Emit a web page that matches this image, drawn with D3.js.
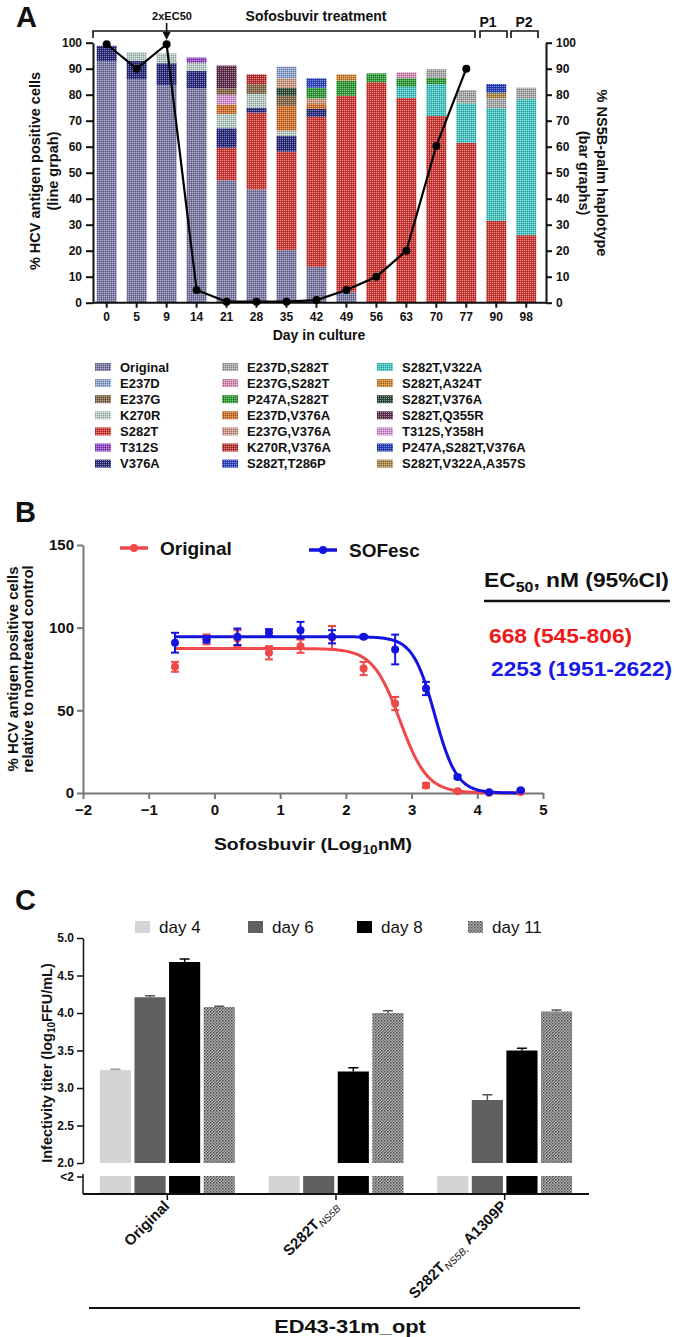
<!DOCTYPE html>
<html><head><meta charset="utf-8">
<script src="https://cdn.jsdelivr.net/npm/d3@7"></script>
<style>
body{margin:0;background:#fff}
text{font-family:"Liberation Sans",Arial,sans-serif;fill:#111}
</style>
</head><body>
<svg id="chart" width="674" height="1337" xmlns="http://www.w3.org/2000/svg"></svg>
<script>
// ---------------- Panel A data ----------------
const days = ["0","5","9","14","21","28","35","42","49","56","63","70","77","90","98"];
const antigenPositive = [99.4, 90, 99.4, 4.9, 0.4, 0.4, 0.4, 1.0, 4.9, 10, 20, 60.3, 90, null, null];

const haplotypeNames = ["Original","E237D","E237G","K270R","S282T","T312S","V376A",
  "E237D,S282T","E237G,S282T","P247A,S282T","E237D,V376A","E237G,V376A","K270R,V376A","S282T,T286P",
  "S282T,V322A","S282T,A324T","S282T,V376A","S282T,Q355R","T312S,Y358H","P247A,S282T,V376A","S282T,V322A,A357S"];

const hOriginal   = [92.8,85.9,83.7,82.5,47.1,43.6,20.3,13.8,4.2,0,0,0,0,0,0];
const hE237D      = [0,0,0,0,0,0,4.5,0,0,0,0,0,0,0,0];
const hE237G      = [0,0,0,0,2.4,3.7,3.9,0,0,0,0,0,0,0,0];
const hK270R      = [0,3.3,3.8,3.2,5.5,5.3,2.1,0,0,0,0,0,0,0,0];
const hS282T      = [0,0,0,0,12.5,29.5,37.8,57.7,75.4,84.8,78.8,71.8,61.5,31.5,26.0];
const hT312S      = [0,0,0,2.0,0,0,0,0,0,0,0,0,0,0,0];
const hV376A      = [6.0,7.1,8.4,6.6,7.5,1.9,6.0,3.0,0,0,0,0,0,0,0];
const hE237D_S282T = [0,0,0,0,0,0,0,0,0,0,0,3.3,5.1,3.8,4.4];
const hE237G_S282T = [0,0,0,0,0,0,0,0,0,0,2.3,0,0,0,0];
const hP247A_S282T = [0,0,0,0,0,0,0,4.1,5.8,3.4,3.2,2.5,0,0,0];
const hE237D_V376A = [0,0,0,0,3.6,0,9.5,1.9,0,0,0,0,0,0,0];
const hE237G_V376A = [0,0,0,0,0,0,3.6,2.2,0,0,0,0,0,0,0];
const hK270R_V376A = [0,0,0,0,0,3.8,0,0,0,0,0,0,0,0,0];
const hS282T_T286P = [0,0,0,0,0,0,0,3.6,0,0,0,0,0,0,0];
const hS282T_V322A = [0,0,0,0,0,0,0,0,0,0,4.3,12.2,15.2,43.3,52.3];
const hS282T_A324T = [0,0,0,0,0,0,0,0,2.4,0,0,0,0,0,0];
const hS282T_V376A = [0,0,0,0,0,0,3.1,0,0,0,0,0,0,0,0];
const hS282T_Q355R = [0,0,0,0,8.8,0,0,0,0,0,0,0,0,0,0];
const hT312S_Y358H = [0,0,0,0,3.8,0,0,0,0,0,0,0,0,0,0];
const hP247A_S282T_V376A = [0,0,0,0,0,0,0,0,0,0,0,0,0,3.3,0];
const hS282T_V322A_A357S = [0,0,0,0,0,0,0,0,0,0,0,0,0,2.2,0];

const haplotypeValues = [hOriginal,hE237D,hE237G,hK270R,hS282T,hT312S,hV376A,
  hE237D_S282T,hE237G_S282T,hP247A_S282T,hE237D_V376A,hE237G_V376A,hK270R_V376A,hS282T_T286P,
  hS282T_V322A,hS282T_A324T,hS282T_V376A,hS282T_Q355R,hT312S_Y358H,hP247A_S282T_V376A,hS282T_V322A_A357S];

// stacking order (bottom -> top)
const stackOrder = ["Original","S282T","S282T,V322A","V376A","K270R","T312S","E237D,V376A","T312S,Y358H",
  "E237G","K270R,V376A","S282T,Q355R","S282T,V376A","E237G,V376A","E237D","P247A,S282T","S282T,T286P",
  "S282T,A324T","E237G,S282T","E237D,S282T","S282T,V322A,A357S","P247A,S282T,V376A"];

const haplotypeColors = ["#7b7ba6","#8fa6d2","#86684a","#b9cec6","#d33a36","#9147c6","#2b2b7f",
  "#a9a9a9","#d68fb6","#2f9c35","#d2722a","#cf9a84","#bf3431","#2f45c2",
  "#46c8c6","#d08634","#2f4a36","#62304f","#d794d6","#233fc0","#ae8a48"];

// ---------------- Panel B data ----------------
const doseLog = [-0.6,-0.12,0.35,0.83,1.31,1.79,2.27,2.75,3.22,3.70,4.18,4.66];
const originalMean = [76.3,92.9,93.5,84.8,88.8,94.0,75.3,54.1,4.6,1.0,0.2,0.6];
const originalErr  = [3,3,5,4,4,7,4,4,1.5,0.5,0.3,0.5];
const sofescMean   = [90.9,93.0,94.5,97.1,98.5,94.5,94.5,86.8,63.2,9.7,0.4,1.6];
const sofescErr    = [6,2,5,2,5,4,1,9,4,1,0.3,0.5];
const fitTop = [87.4, 94.5];
const fitEC50nM = [668, 2253];
const fitHill = [2.1, 2.6];
const ec50Labels = ["668 (545-806)", "2253 (1951-2622)"];

// ---------------- Panel C data ----------------
const constructs = ["Original","S282T_NS5B","S282T_NS5B_A1309P"];
const dayLabels = ["day 4","day 6","day 8","day 11"];
const titerDay4  = [3.24, null, null];
const titerDay6  = [4.21, null, 2.84];
const titerDay8  = [4.68, 3.22, 3.50];
const titerDay11 = [4.08, 4.00, 4.02];
const errDay4  = [0.01, null, null];
const errDay6  = [0.02, null, 0.07];
const errDay8  = [0.04, 0.05, 0.03];
const errDay11 = [0.01, 0.03, 0.02];
const cTicks = [2.0,2.5,3.0,3.5,4.0,4.5,5.0];

// ======================================================
const svg = d3.select("#chart");
svg.append("rect").attr("width",674).attr("height",1337).attr("fill","#fff");
const defs = svg.append("defs");
const FONT = '"Liberation Sans",Arial,sans-serif';

function makePattern(id, color, light=0.45, dark=0.25){
  const p = defs.append("pattern").attr("id",id).attr("patternUnits","userSpaceOnUse")
    .attr("width",2).attr("height",2);
  p.append("rect").attr("width",2).attr("height",2).attr("fill",color);
  p.append("rect").attr("width",1).attr("height",1).attr("fill",d3.interpolateRgb(color,"#fff")(light));
  p.append("rect").attr("x",1).attr("y",1).attr("width",1).attr("height",1).attr("fill",d3.interpolateRgb(color,"#000")(dark));
}
haplotypeColors.forEach((c,i)=>makePattern("hp"+i,c));
const colorOf = name => "url(#hp"+haplotypeNames.indexOf(name)+")";

function styleAxis(g, size, color="#111", width=2){
  g.selectAll("text").style("font-family",FONT).style("font-weight","bold").style("font-size",size+"px").attr("fill","#111");
  g.selectAll("line").attr("stroke",color).attr("stroke-width",width);
  g.selectAll("path").attr("stroke",color).attr("stroke-width",width);
}

// ================= Panel A =================
const xA = d3.scaleBand(days,[91.7,541.2]).paddingInner(1/3).paddingOuter(1/6);
const yA = d3.scaleLinear([0,100],[302.7,42.7]);
const gA = svg.append("g");

const rows = days.map((d,i)=>{
  const o = {day:d};
  haplotypeNames.forEach((n,k)=>o[n]=haplotypeValues[k][i]);
  return o;
});
const stacked = d3.stack().keys(stackOrder)(rows);
stacked.forEach(layer=>{
  gA.append("g").selectAll("rect").data(layer.filter(s=>s[1]-s[0]>0)).join("rect")
    .attr("x",s=>xA(s.data.day)).attr("width",xA.bandwidth())
    .attr("y",s=>yA(s[1])).attr("height",s=>yA(s[0])-yA(s[1]))
    .attr("fill",colorOf(layer.key));
});

// axes
const axL = gA.append("g").attr("transform","translate(93,0)")
  .call(d3.axisLeft(yA).tickValues(d3.range(0,101,10)).tickSize(7).tickPadding(4).tickSizeOuter(0));
styleAxis(axL,12);
const axR = gA.append("g").attr("transform","translate(546,0)")
  .call(d3.axisRight(yA).tickValues(d3.range(0,101,10)).tickSize(6).tickPadding(4).tickSizeOuter(0));
styleAxis(axR,12);
const axB = gA.append("g").attr("transform","translate(0,302.7)")
  .call(d3.axisBottom(xA).tickSize(5).tickPadding(5).tickSizeOuter(0));
axB.select(".domain").remove();
styleAxis(axB,12);
gA.append("line").attr("x1",93).attr("x2",546).attr("y1",302.7).attr("y2",302.7).attr("stroke","#111").attr("stroke-width",2);

// line graph
const lineA = d3.line().defined(d=>d.v!=null).x(d=>xA(d.day)+xA.bandwidth()/2).y(d=>yA(d.v));
const linePts = days.map((d,i)=>({day:d,v:antigenPositive[i]}));
gA.append("path").datum(linePts).attr("d",lineA).attr("fill","none").attr("stroke","#000").attr("stroke-width",2.2);
gA.append("g").selectAll("circle").data(linePts.filter(d=>d.v!=null)).join("circle")
  .attr("cx",d=>xA(d.day)+xA.bandwidth()/2).attr("cy",d=>yA(d.v)).attr("r",4).attr("fill","#000");

// titles
function txt(g,x,y,s,size,opts={}){
  const t = g.append("text").text(s)
    .style("font-size",size+"px").style("font-weight",opts.weight||"bold")
    .attr("text-anchor",opts.anchor||"start");
  if(opts.fill) t.style("fill",opts.fill);
  if(opts.rotate!=null) t.attr("x",x).attr("y",y).attr("transform",`rotate(${opts.rotate},${x},${y})`);
  else if(opts.sx) t.attr("x",0).attr("y",0).attr("transform",`translate(${x},${y}) scale(${opts.sx},1)`);
  else t.attr("x",x).attr("y",y);
  return t;
}
txt(gA,16,27,"A",29);
txt(gA,172,20,"2xEC50",11,{anchor:"middle"});
txt(gA,316,21,"Sofosbuvir treatment",14,{anchor:"middle"});
txt(gA,488,27,"P1",14,{anchor:"middle"});
txt(gA,524,27,"P2",14,{anchor:"middle"});
function bracket(x1,x2){
  gA.append("path").attr("d",`M${x1},38V31H${x2}V38`).attr("fill","none").attr("stroke","#111").attr("stroke-width",1.6);
}
bracket(93,475); bracket(480,507); bracket(511,538);
const ax9 = xA("9")+xA.bandwidth()/2;
gA.append("line").attr("x1",ax9).attr("x2",ax9).attr("y1",23).attr("y2",34).attr("stroke","#111").attr("stroke-width",1.6);
gA.append("path").attr("d",`M${ax9-4},32L${ax9+4},32L${ax9},40Z`).attr("fill","#111");

txt(gA,40,171,"% HCV antigen positive cells",14.5,{anchor:"middle",rotate:-90});
txt(gA,58,171,"(line grpah)",14.5,{anchor:"middle",rotate:-90});
txt(gA,597,173,"% NS5B-palm haplotype",14.5,{anchor:"middle",rotate:90});
txt(gA,579,173,"(bar graphs)",14.5,{anchor:"middle",rotate:90});
txt(gA,319,340,"Day in culture",14,{anchor:"middle"});

// legend
const legCols = [95,222,377];
haplotypeNames.forEach((n,i)=>{
  const c = Math.floor(i/7), r = i%7;
  const x = legCols[c], y = 367 + r*16.1;
  gA.append("rect").attr("x",x).attr("y",y-4).attr("width",16).attr("height",8).attr("fill",colorOf(n));
  txt(gA,x+25,y+4.5,n,13);
});

// ================= Panel B =================
const gB = svg.append("g");
const xB = d3.scaleLinear([-2,5],[83,543]);
const yB = d3.scaleLinear([0,150],[793,545]);
const redC = "#f04848", blueC = "#1414e0";
const axBL = gB.append("g").attr("transform","translate(83,0)")
  .call(d3.axisLeft(yB).tickValues([0,50,100,150]).tickSize(6).tickPadding(3).tickSizeOuter(0));
styleAxis(axBL,15,"#777",2);
const axBB = gB.append("g").attr("transform","translate(0,793)")
  .call(d3.axisBottom(xB).tickValues(d3.range(-2,6,1)).tickSize(6).tickPadding(5).tickSizeOuter(0).tickFormat(d3.format("d")));
styleAxis(axBB,15,"#777",2);

const curveXs = d3.range(doseLog[0], doseLog[doseLog.length-1]+0.001, 0.02);
const series = [
  {mean:originalMean, err:originalErr, color:redC, k:0},
  {mean:sofescMean, err:sofescErr, color:blueC, k:1}
];
series.forEach(s=>{
  const ec = Math.log10(fitEC50nM[s.k]);
  const f = x => fitTop[s.k]/(1+Math.pow(10,(x-ec)*fitHill[s.k]));
  gB.append("path").datum(curveXs).attr("fill","none").attr("stroke",s.color).attr("stroke-width",3)
    .attr("d",d3.line().x(x=>xB(x)).y(x=>yB(f(x))));
});
series.forEach(s=>{
  const g = gB.append("g");
  doseLog.forEach((x,i)=>{
    const m = s.mean[i], e = s.err[i];
    const cx = xB(x);
    g.append("line").attr("x1",cx).attr("x2",cx).attr("y1",yB(m-e)).attr("y2",yB(m+e)).attr("stroke",s.color).attr("stroke-width",2);
    [m-e,m+e].forEach(v=>g.append("line").attr("x1",cx-4).attr("x2",cx+4).attr("y1",yB(v)).attr("y2",yB(v)).attr("stroke",s.color).attr("stroke-width",2));
    g.append("circle").attr("cx",cx).attr("cy",yB(m)).attr("r",4).attr("fill",s.color);
  });
});
txt(gB,15,522,"B",29);
// legend
[[120,148,548,"Original",redC],[309,337,550,"SOFesc",blueC]].forEach(([x1,x2,y,l,c])=>{
  gB.append("line").attr("x1",x1).attr("x2",x2).attr("y1",y).attr("y2",y).attr("stroke",c).attr("stroke-width",3.5);
  gB.append("circle").attr("cx",(x1+x2)/2).attr("cy",y).attr("r",4).attr("fill",c);
  txt(gB,x2+12,y+7,l,19);
});
const ecT = gB.append("text").attr("transform","translate(484,587) scale(1.14,1)").style("font-size","20px").style("font-weight","bold");
ecT.append("tspan").text("EC");
ecT.append("tspan").text("50").style("font-size","14px").attr("dy",5);
ecT.append("tspan").text(", nM (95%CI)").attr("dy",-5);
gB.append("line").attr("x1",484).attr("x2",670).attr("y1",601).attr("y2",601).attr("stroke","#111").attr("stroke-width",2.5);
txt(gB,489,643,ec50Labels[0],20,{fill:"#f01818",sx:1.14});
txt(gB,491,676,ec50Labels[1],20,{fill:"#1a1ae8",sx:1.14});
txt(gB,18,669,"% HCV antigen positive cells",15,{anchor:"middle",rotate:-90});
txt(gB,33,669,"relative to nontreated control",15,{anchor:"middle",rotate:-90});
const sofT = gB.append("text").attr("transform","translate(313,850) scale(1.14,1)").attr("text-anchor","middle").style("font-size","17px").style("font-weight","bold");
sofT.append("tspan").text("Sofosbuvir (Log");
sofT.append("tspan").text("10").style("font-size","12px").attr("dy",4);
sofT.append("tspan").text("nM)").attr("dy",-4);

// ================= Panel C =================
const gC = svg.append("g");
const yC = d3.scaleLinear([2,5],[1163,938]);
const xC = d3.scaleBand(constructs,[83,589]);
const xD = d3.scaleBand(dayLabels,[xC.bandwidth()*0.1, xC.bandwidth()*0.9]).paddingInner(0.1);
const dayFills = ["#d4d4d4","#606060","#000000","url(#chk)"];
const dayErrColor = ["#9a9a9a","#555","#000","#555"];
const chk = defs.append("pattern").attr("id","chk").attr("patternUnits","userSpaceOnUse").attr("width",3).attr("height",3);
chk.append("rect").attr("width",3).attr("height",3).attr("fill","#b4b4b4");
chk.append("rect").attr("width",1.5).attr("height",1.5).attr("fill","#4a4a4a");
chk.append("rect").attr("x",1.5).attr("y",1.5).attr("width",1.5).attr("height",1.5).attr("fill","#6a6a6a");

const titers = [titerDay4,titerDay6,titerDay8,titerDay11];
const errs = [errDay4,errDay6,errDay8,errDay11];
constructs.forEach((c,ci)=>{
  dayLabels.forEach((d,di)=>{
    const x = xC(c)+xD(d), w = xD.bandwidth();
    // lower (<2) segment
    gC.append("rect").attr("x",x).attr("y",1176).attr("width",w).attr("height",17).attr("fill",dayFills[di]);
    const v = titers[di][ci];
    if(v!=null){
      gC.append("rect").attr("x",x).attr("y",yC(v)).attr("width",w).attr("height",yC(2)-yC(v)).attr("fill",dayFills[di]);
      const e = errs[di][ci], cx = x+w/2;
      gC.append("line").attr("x1",cx).attr("x2",cx).attr("y1",yC(v)).attr("y2",yC(v+e)).attr("stroke",dayErrColor[di]).attr("stroke-width",1.5);
      gC.append("line").attr("x1",cx-5).attr("x2",cx+5).attr("y1",yC(v+e)).attr("y2",yC(v+e)).attr("stroke",dayErrColor[di]).attr("stroke-width",1.5);
    }
  });
});
const axCL = gC.append("g").attr("transform","translate(83,0)")
  .call(d3.axisLeft(yC).tickValues(cTicks).tickFormat(d3.format(".1f")).tickSize(6).tickPadding(3).tickSizeOuter(0));
styleAxis(axCL,12,"#111",1.5);
// lower axis segment
gC.append("line").attr("x1",83).attr("x2",83).attr("y1",1174).attr("y2",1194).attr("stroke","#111").attr("stroke-width",1.5);
gC.append("line").attr("x1",77).attr("x2",83).attr("y1",1177).attr("y2",1177).attr("stroke","#111").attr("stroke-width",1.5);
txt(gC,74,1181,"<2",12,{anchor:"end"});
gC.append("line").attr("x1",83).attr("x2",589).attr("y1",1194).attr("y2",1194).attr("stroke","#111").attr("stroke-width",1.8);
constructs.forEach(c=>{
  const cx = xC(c)+xC.bandwidth()/2;
  gC.append("line").attr("x1",cx).attr("x2",cx).attr("y1",1194).attr("y2",1200).attr("stroke","#111").attr("stroke-width",1.5);
});
// category labels (rotated)
const catParts = [
  [["Original",null]],
  [["S282T",null],["NS5B","sub"]],
  [["S282T",null],["NS5B,","sub"],[" A1309P",null]]
];
constructs.forEach((c,ci)=>{
  const cx = xC(c)+xC.bandwidth()/2 + 3, cy = 1207;
  const t = gC.append("text").attr("x",cx).attr("y",cy).attr("text-anchor","end")
    .attr("transform",`rotate(-45,${cx},${cy})`).style("font-size","15px").style("font-weight","bold");
  let shifted=false;
  catParts[ci].forEach(([s,kind])=>{
    const sp = t.append("tspan").text(s);
    if(kind==="sub"){ sp.style("font-size","10px").style("font-style","italic").style("font-weight","normal"); if(!shifted){sp.attr("dy",3);shifted=true;} }
    else if(shifted){ sp.attr("dy",-3); shifted=false; }
  });
});
gC.append("line").attr("x1",89).attr("x2",580).attr("y1",1308).attr("y2",1308).attr("stroke","#111").attr("stroke-width",2);
txt(gC,350,1333,"ED43-31m_opt",19,{anchor:"middle",sx:1.15});
txt(gC,15,910,"C",29);
const yTitle = gC.append("text").attr("x",52).attr("y",1063).attr("text-anchor","middle")
  .attr("transform","rotate(-90,52,1063)").style("font-size","14.5px").style("font-weight","bold");
yTitle.append("tspan").text("Infectivity titer (log");
yTitle.append("tspan").text("10").style("font-size","10px").attr("dy",3);
yTitle.append("tspan").text("FFU/mL)").attr("dy",-3);
// legend
const legX = [135,248,357,468];
dayLabels.forEach((d,i)=>{
  gC.append("rect").attr("x",legX[i]).attr("y",921).attr("width",15).attr("height",12).attr("fill",dayFills[i]);
  txt(gC,legX[i]+24,933,d,17,{weight:"normal"});
});
</script>
</body></html>
